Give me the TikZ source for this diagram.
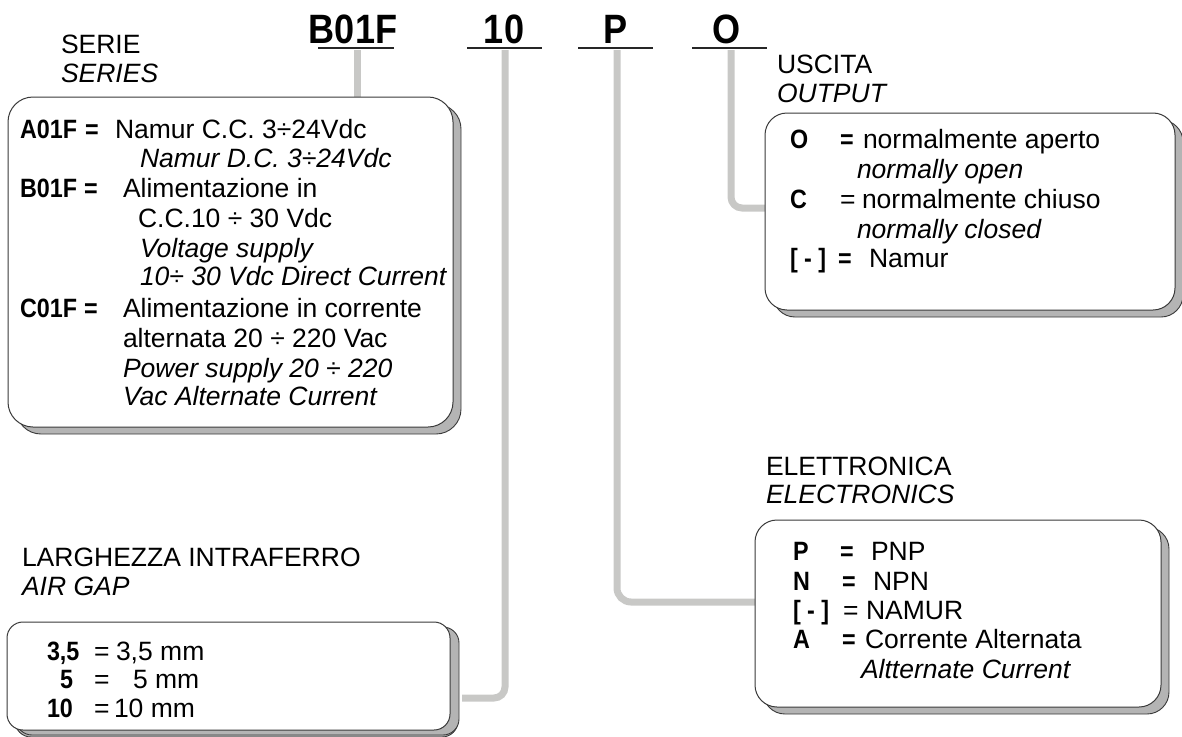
\documentclass[tikz,border=0pt]{standalone}
\usepackage{fontspec}
\setmainfont{Liberation Sans}
\newfontfamily\bfc[FakeStretch=0.88]{Liberation Sans Bold}
\usetikzlibrary{shadows}
\definecolor{conngray}{HTML}{C8C8C6}
\definecolor{shgray}{HTML}{B4B4B4}
\definecolor{edge}{HTML}{3A3A3A}
\begin{document}
\begin{tikzpicture}[x=1pt,y=-1pt,
  txt/.style={anchor=base west,inner sep=0pt,outer sep=0pt,font=\fontsize{26.5}{30}\selectfont},
  bt/.style={txt,font=\fontsize{26.5}{30}\selectfont\bfc},
  it/.style={txt,font=\fontsize{26.5}{30}\selectfont\itshape},
  hdr/.style={anchor=base,inner sep=0pt,font=\fontsize{41}{44}\selectfont\bfc},
  uline/.style={line width=2.6pt,black!85},
  conn/.style={line width=7pt,conngray},
  box/.style={draw=edge,fill=white,line width=1pt,anchor=north west,inner sep=0pt,outer sep=0pt,
    drop shadow={shadow xshift=8pt,shadow yshift=-7pt,fill=shgray,draw=edge,line width=0.9pt,opacity=1}}
]
\useasboundingbox (0,0) rectangle (1182,736);

% header codes
\node[hdr] (hB) at (353,43) {B01F};
\node[hdr] (h10) at (504,43) {10};
\node[hdr] (hP) at (616,43) {P};
\node[hdr] (hO) at (727,43) {O};
\draw[uline] (318,48) -- (394,48);
\draw[uline] (467,48) -- (542,48);
\draw[uline] (578,48) -- (653,48);
\draw[uline] (692,48) -- (767,48);

\coordinate (cB) at (357,50);
\coordinate (c10) at (505,50);
\coordinate (cP) at (617,50);
\coordinate (cO) at (731,50);
\coordinate (e10) at (462,698);
\coordinate (eP) at (756,602);
\coordinate (eO) at (766,208);

% connectors
\draw[conn] (cB) -- (357,98);
\draw[conn,rounded corners=11pt] (c10) |- (e10);
\draw[conn,rounded corners=14pt] (cP) |- (eP);
\draw[conn,rounded corners=11pt] (cO) |- (eO);

% boxes
\node[box,rounded corners=25pt,minimum width=445pt,minimum height=330pt] (b1) at (8,97) {};
\node[box,rounded corners=16pt,minimum width=443pt,minimum height=108pt,
  drop shadow={shadow xshift=9pt,shadow yshift=-5pt,fill=shgray,draw=edge,line width=0.9pt,opacity=1}] (b2) at (7,622) {};
\node[box,rounded corners=22pt,minimum width=406pt,minimum height=187pt] (b3) at (755,520) {};
\node[box,rounded corners=22pt,minimum width=410pt,minimum height=197pt] (b4) at (765,113) {};

% SERIE
\node[txt] (s1) at (61,53) {SERIE};
\node[it] (s2) at (61,82) {SERIES};
\node[bt] (a1) at (20,138) {A01F};
\node[bt] (a1b) at (85,138) {=};
\node[txt] (a2) at (115,138) {Namur C.C. 3÷24Vdc};
\node[it] (a3) at (140,167) {Namur D.C. 3÷24Vdc};
\node[bt] (b1a) at (20,197) {B01F};
\node[bt] (b1b) at (84,197) {=};
\node[txt] (b1c) at (123,197) {Alimentazione in};
\node[txt] (b1d) at (138,227) {C.C.10 ÷ 30 Vdc};
\node[it] (b1e) at (140,257) {Voltage supply};
\node[it] (b1f) at (140,285) {10÷ 30 Vdc Direct Current};
\node[bt] (c1a) at (20,317) {C01F};
\node[bt] (c1b) at (84,317) {=};
\node[txt] (c1c) at (123,317) {Alimentazione in corrente};
\node[txt] (c1d) at (123,347) {alternata 20 ÷ 220 Vac};
\node[it] (c1e) at (123,377) {Power supply 20 ÷ 220};
\node[it] (c1f) at (123,405) {Vac Alternate Current};

% AIR GAP
\node[txt] (g1) at (22,566) {LARGHEZZA INTRAFERRO};
\node[it] (g2) at (22,595) {AIR GAP};
\node[bt] (g3a) at (47,660) {3,5};
\node[txt] (g3b) at (94,660) {=};
\node[txt] (g3c) at (116,660) {3,5 mm};
\node[bt] (g4a) at (60,688) {5};
\node[txt] (g4b) at (94,688) {=};
\node[txt] (g4c) at (133,688) {5 mm};
\node[bt] (g5a) at (47,717) {10};
\node[txt] (g5b) at (94,717) {=};
\node[txt] (g5c) at (114,717) {10 mm};

% OUTPUT
\node[txt] (o1) at (777,73) {USCITA};
\node[it] (o2) at (777,102) {OUTPUT};
\node[bt] (o3a) at (790,148) {O};
\node[bt] (o3b) at (840,148) {=};
\node[txt] (o3c) at (863,148) {normalmente aperto};
\node[it] (o4) at (857,178) {normally open};
\node[bt] (o5a) at (790,208) {C};
\node[txt] (o5b) at (840,208) {=};
\node[txt] (o5c) at (862,208) {normalmente chiuso};
\node[it] (o6) at (857,238) {normally closed};
\node[bt] (o7a) at (790,267) {[ - ]};
\node[bt] (o7b) at (838,267) {=};
\node[txt] (o7c) at (869,267) {Namur};

% ELECTRONICS
\node[txt] (e1) at (766,475) {ELETTRONICA};
\node[it] (e2) at (766,503) {ELECTRONICS};
\node[bt] (e3a) at (793,560) {P};
\node[bt] (e3b) at (840,560) {=};
\node[txt] (e3c) at (871,560) {PNP};
\node[bt] (e4a) at (793,590) {N};
\node[bt] (e4b) at (842,590) {=};
\node[txt] (e4c) at (873,590) {NPN};
\node[bt] (e5a) at (793,619) {[ - ]};
\node[txt] (e5b) at (843,619) {=};
\node[txt] (e5c) at (866,619) {NAMUR};
\node[bt] (e6a) at (793,648) {A};
\node[bt] (e6b) at (842,648) {=};
\node[txt] (e6c) at (865,648) {Corrente Alternata};
\node[it] (e7) at (861,678) {Altternate Current};
\end{tikzpicture}
\end{document}
